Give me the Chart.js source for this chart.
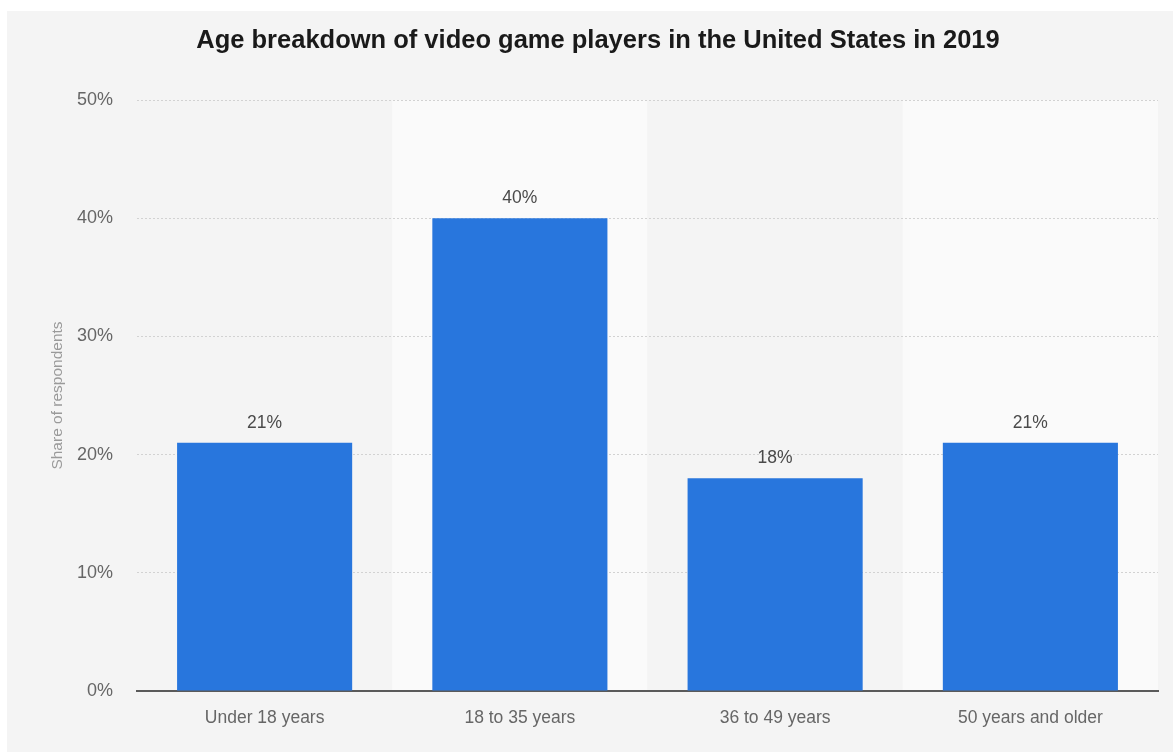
<!DOCTYPE html>
<html>
<head>
<meta charset="utf-8">
<script src="https://cdn.jsdelivr.net/npm/chart.js@4.4.1/dist/chart.umd.min.js"></script>
<style>
  html, body { margin: 0; padding: 0; background: #ffffff; }
  #wrap { width: 1173px; height: 752px; }
</style>
</head>
<body>
<div id="wrap"><canvas id="ageChart" width="1173" height="752"></canvas></div>
<script>
const chartTitle = "Age breakdown of video game players in the United States in 2019";
const yAxisTitle = "Share of respondents";
const ageGroups = ["Under 18 years", "18 to 35 years", "36 to 49 years", "50 years and older"];
const shareValues = [21, 40, 18, 21];
const yTicks = [0, 10, 20, 30, 40, 50];

const fontFamily = "'Liberation Sans', Arial, Helvetica, sans-serif";
const barColor = "#2876dd";

// page background, alternating category bands, title + axis title
const backdropPlugin = {
    id: 'backdrop',
    beforeDraw(chart) {
        const ctx = chart.ctx;
        const area = chart.chartArea;
        const xs = chart.scales.x;
        ctx.save();
        ctx.fillStyle = "#ffffff";
        ctx.fillRect(0, 0, chart.width, chart.height);
        ctx.fillStyle = "#f4f4f4";
        ctx.fillRect(7, 11, chart.width - 7, chart.height - 11);
        let step = xs.getPixelForValue(1) - xs.getPixelForValue(0);
        for (let i = 0; i < ageGroups.length; i++) {
            let cx = xs.getPixelForValue(i);
            ctx.fillStyle = (i % 2 === 1) ? "#fafafa" : "#f4f4f4";
            ctx.fillRect(cx - step / 2, area.top, step, area.bottom - area.top);
        }
        ctx.restore();
    },
    afterDraw(chart) {
        const ctx = chart.ctx;
        const area = chart.chartArea;
        ctx.save();
        ctx.fillStyle = "#1a1a1a";
        ctx.font = "bold 25.5px " + fontFamily;
        ctx.textAlign = "center";
        ctx.textBaseline = "middle";
        ctx.fillText(chartTitle, 598, 41);

        ctx.translate(58, (area.top + area.bottom) / 2);
        ctx.rotate(-Math.PI / 2);
        ctx.fillStyle = "#9a9a9a";
        ctx.font = "15.5px " + fontFamily;
        ctx.fillText(yAxisTitle, 0, 0);
        ctx.restore();
    }
};

// value labels above bars
const valueLabelPlugin = {
    id: 'valueLabels',
    afterDatasetsDraw(chart) {
        const ctx = chart.ctx;
        const meta = chart.getDatasetMeta(0);
        ctx.save();
        ctx.fillStyle = "#4a4a4a";
        ctx.font = "17.5px " + fontFamily;
        ctx.textAlign = "center";
        ctx.textBaseline = "middle";
        meta.data.forEach(function (bar, i) {
            ctx.fillText(shareValues[i] + "%", bar.x, bar.y - 20);
        });
        ctx.restore();
    }
};

new Chart("ageChart", {
    type: 'bar',
    data: {
        labels: ageGroups,
        datasets: [{
            label: yAxisTitle,
            data: shareValues,
            backgroundColor: barColor,
            borderWidth: 0,
            categoryPercentage: 1,
            barPercentage: 0.686
        }]
    },
    options: {
        responsive: false,
        animation: false,
        layout: {
            padding: { left: 0, top: 100, right: 15, bottom: 0 }
        },
        plugins: {
            legend: { display: false },
            title: { display: false },
            tooltip: { enabled: false }
        },
        scales: {
            x: {
                grid: { display: false, drawTicks: false },
                border: { display: true, color: "#5a5a5a", width: 2 },
                ticks: {
                    color: "#666666",
                    font: { family: fontFamily, size: 17.5 },
                    padding: 17
                },
                afterFit(scale) { scale.height = 61; }
            },
            y: {
                min: 0,
                max: 50,
                afterBuildTicks(scale) {
                    scale.ticks = yTicks.map(function (v) { return { value: v }; });
                },
                grid: {
                    drawTicks: false,
                    color: function (c) { return c.tick && c.tick.value === 0 ? "rgba(0,0,0,0)" : "#d2d2d2"; },
                    lineWidth: 1
                },
                border: { display: false, dash: [2, 2] },
                ticks: {
                    color: "#666666",
                    font: { family: fontFamily, size: 18 },
                    padding: 24,
                    callback: function (v) { return v + "%"; }
                },
                afterFit(scale) { scale.width = 137; }
            }
        }
    },
    plugins: [backdropPlugin, valueLabelPlugin]
});
</script>
</body>
</html>
